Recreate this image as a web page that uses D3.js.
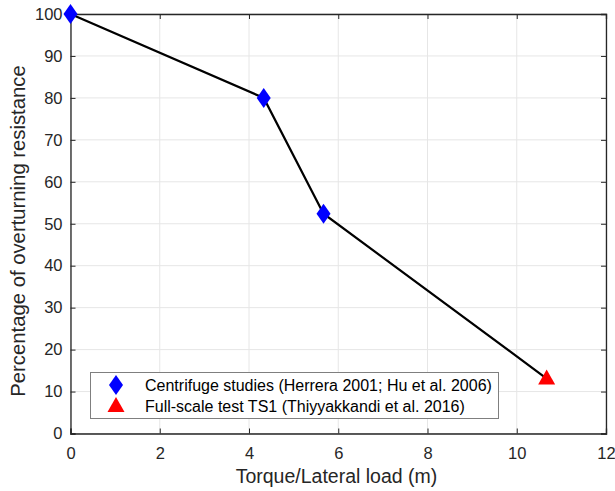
<!DOCTYPE html>
<html><head><meta charset="utf-8">
<script src="https://cdn.jsdelivr.net/npm/d3@7"></script>
<style>body{margin:0;background:#fff;}svg{display:block;font-family:"Liberation Sans",Arial,sans-serif;}</style>
</head><body>
<svg id="c" width="615" height="491"></svg>
<script>
const lineX = [0, 4.33, 5.67, 10.67];
const lineY = [100, 80, 52.4, 13.1];
const centrifugeX = [0, 4.33, 5.67];
const centrifugeY = [100, 80, 52.4];
const fullScaleX = [10.67];
const fullScaleY = [13.1];
const xTicks = [0, 2, 4, 6, 8, 10, 12];
const yTicks = [0, 10, 20, 30, 40, 50, 60, 70, 80, 90, 100];
const legendLabels = ["Centrifuge studies (Herrera 2001; Hu et al. 2006)", "Full-scale test TS1 (Thiyyakkandi et al. 2016)"];

const svg = d3.select("#c");
const L = 70.5, R = 606, T = 14, B = 433.5;
const x = d3.scaleLinear().domain([0, 12]).range([L, R]);
const y = d3.scaleLinear().domain([0, 100]).range([B, T]);
const tc = "#262626";

// grid
const g = svg.append("g");
g.selectAll(".gx").data(xTicks).enter().append("line")
  .attr("x1", d => x(d)).attr("x2", d => x(d)).attr("y1", T).attr("y2", B)
  .attr("stroke", "#e6e6e6").attr("stroke-width", 1);
g.selectAll(".gy").data(yTicks).enter().append("line")
  .attr("y1", d => y(d)).attr("y2", d => y(d)).attr("x1", L).attr("x2", R)
  .attr("stroke", "#e6e6e6").attr("stroke-width", 1);

// axes
const xAx = svg.append("g").attr("transform", `translate(0,${B})`)
  .call(d3.axisBottom(x).tickValues(xTicks).tickSize(-5).tickPadding(13.5).tickFormat(d3.format("d")));
const xAxT = svg.append("g").attr("transform", `translate(0,${T})`)
  .call(d3.axisTop(x).tickValues(xTicks).tickSize(-5).tickFormat(""));
const yAx = svg.append("g").attr("transform", `translate(${L},0)`)
  .call(d3.axisLeft(y).tickValues(yTicks).tickSize(-5).tickPadding(8).tickFormat(d3.format("d")));
const yAxR = svg.append("g").attr("transform", `translate(${R},0)`)
  .call(d3.axisRight(y).tickValues(yTicks).tickSize(-5).tickFormat(""));
[xAx, xAxT, yAx, yAxR].forEach(a => {
  a.selectAll("path").attr("stroke", tc).attr("stroke-width", 1.3);
  a.selectAll("line").attr("stroke", tc);
  a.selectAll("text").attr("fill", tc).attr("font-size", 16.5).attr("font-family", "Liberation Sans, Arial, sans-serif");
});

// line
const pts = lineX.map((v, i) => [v, lineY[i]]);
svg.append("path").datum(pts)
  .attr("d", d3.line().x(d => x(d[0])).y(d => y(d[1])))
  .attr("fill", "none").attr("stroke", "#000").attr("stroke-width", 2.2);

// markers
const diamond = (cx, cy) => `M${cx},${cy-10}L${cx+7},${cy}L${cx},${cy+10}L${cx-7},${cy}Z`;
const tri = (cx, cy) => `M${cx},${cy-9}L${cx+8.5},${cy+6}L${cx-8.5},${cy+6}Z`;
svg.selectAll(".dm").data(centrifugeX.map((v, i) => [v, centrifugeY[i]])).enter().append("path")
  .attr("d", d => diamond(x(d[0]), y(d[1]))).attr("fill", "#0000ff");
svg.selectAll(".tr").data(fullScaleX.map((v, i) => [v, fullScaleY[i]])).enter().append("path")
  .attr("d", d => tri(x(d[0]), y(d[1]))).attr("fill", "#ff0000");

// legend
const lg = svg.append("g");
lg.append("rect").attr("x", 90.5).attr("y", 372.5).attr("width", 408).attr("height", 46)
  .attr("fill", "#fff").attr("stroke", "#7f7f7f").attr("stroke-width", 1);
lg.append("path").attr("d", diamond(116, 385)).attr("fill", "#0000ff");
lg.append("path").attr("d", tri(116, 406)).attr("fill", "#ff0000");
legendLabels.forEach((t, i) => {
  lg.append("text").attr("x", 145).attr("y", 391 + i * 21).attr("font-size", 16).attr("fill", "#000").text(t);
});

// axis labels
svg.append("text").attr("x", 336.5).attr("y", 483).attr("text-anchor", "middle")
  .attr("font-size", 19.5).attr("fill", tc).text("Torque/Lateral load (m)");
svg.append("text").attr("transform", `translate(25,231) rotate(-90)`).attr("text-anchor", "middle")
  .attr("font-size", 20.3).attr("fill", tc).text("Percentage of overturning resistance");
</script>
</body></html>
